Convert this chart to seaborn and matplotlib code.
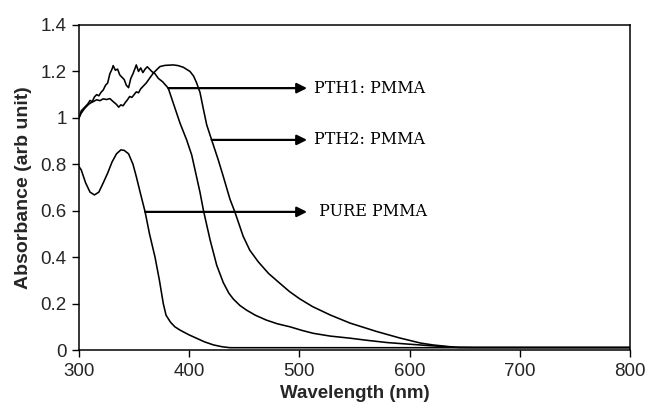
import matplotlib
matplotlib.use("Agg")
import matplotlib.pyplot as plt
import seaborn as sns
import pandas as pd

# Absorption spectra (wavelength in nm, absorbance in arb. units)
pth1_wl = [300, 302, 304, 306, 308, 310, 312, 314, 316, 318, 320, 322, 324, 326,
           328, 330, 331, 333, 335, 337, 339, 341, 343, 345, 347, 349, 351, 352,
           354, 356, 358, 360, 362, 364, 366, 369, 372, 376, 381, 385.6, 391.7,
           397.7, 402.3, 405.3, 409.8, 413, 419, 425, 431, 436, 440, 446, 452,
           460, 470, 480, 491.5, 502, 512.6, 528, 546, 561, 580, 600, 618, 640,
           660, 700, 750, 800]
pth1_abs = [1.00, 1.03, 1.04, 1.05, 1.06, 1.075, 1.07, 1.09, 1.10, 1.095, 1.11,
            1.12, 1.14, 1.15, 1.19, 1.21, 1.225, 1.205, 1.21, 1.185, 1.175, 1.165,
            1.14, 1.13, 1.17, 1.19, 1.215, 1.228, 1.20, 1.215, 1.195, 1.21, 1.22,
            1.21, 1.20, 1.19, 1.17, 1.155, 1.128, 1.063, 0.977, 0.905, 0.84,
            0.776, 0.68, 0.60, 0.474, 0.365, 0.29, 0.245, 0.22, 0.192, 0.172,
            0.15, 0.129, 0.113, 0.10, 0.085, 0.072, 0.06, 0.051, 0.042, 0.032,
            0.025, 0.019, 0.012, 0.011, 0.011, 0.011, 0.011]

pth2_wl = [300, 302, 305, 308, 310, 313, 316, 319, 322, 325, 328, 331, 334, 336,
           338, 340, 342, 344, 346, 348, 350, 352, 354, 356, 358, 361, 364, 367,
           370, 373.5, 378, 385.6, 390, 394.6, 400.7, 404, 406.8, 409.8, 412.8,
           415.9, 420.4, 426.4, 431, 437, 441.6, 449, 455, 462.7, 472, 482.4,
           491, 500.5, 512, 528, 546, 570, 591, 610, 621, 635, 645, 700, 750, 800]
pth2_abs = [1.00, 1.02, 1.04, 1.055, 1.063, 1.07, 1.078, 1.074, 1.082, 1.079,
            1.083, 1.07, 1.058, 1.046, 1.056, 1.052, 1.066, 1.078, 1.092, 1.088,
            1.10, 1.112, 1.108, 1.125, 1.135, 1.15, 1.17, 1.19, 1.205, 1.221,
            1.226, 1.228, 1.225, 1.218, 1.20, 1.18, 1.15, 1.11, 1.04, 0.97,
            0.905, 0.819, 0.747, 0.65, 0.593, 0.49, 0.43, 0.38, 0.33, 0.287,
            0.252, 0.22, 0.187, 0.151, 0.116, 0.08, 0.052, 0.03, 0.022, 0.015,
            0.011, 0.011, 0.011, 0.011]

pure_wl = [300, 302, 306, 310, 314, 318, 322, 326, 330, 334, 338, 341, 345, 349,
           352, 356, 360, 364, 369, 373, 376.5, 379, 383, 387, 392, 400, 407,
           414, 422, 430, 437, 500, 600, 700, 800]
pure_abs = [0.79, 0.776, 0.72, 0.68, 0.668, 0.68, 0.72, 0.762, 0.81, 0.845,
            0.862, 0.86, 0.845, 0.80, 0.747, 0.67, 0.595, 0.50, 0.40, 0.30, 0.20,
            0.15, 0.12, 0.10, 0.085, 0.065, 0.05, 0.035, 0.022, 0.014, 0.01,
            0.01, 0.01, 0.01, 0.01]

labels = ["PTH1: PMMA", "PTH2: PMMA", " PURE PMMA"]
# arrow origin on each curve (wavelength, absorbance)
arrow_start = [(381, 1.128), (420.4, 0.905), (360, 0.595)]

x_ticks = [300, 400, 500, 600, 700, 800]
y_ticks = [0, 0.2, 0.4, 0.6, 0.8, 1.0, 1.2, 1.4]
y_tick_labels = ["0", "0.2", "0.4", "0.6", "0.8", "1", "1.2", "1.4"]

sns.set_style("ticks")
plt.rcParams["font.family"] = ["Liberation Sans", "DejaVu Sans"]

fig = plt.figure(figsize=(6.46, 4.13), dpi=100)
ax = fig.add_axes([0.1223, 0.1525, 0.975 - 0.1223, 0.9395 - 0.1525])

for wl, ab in [(pth1_wl, pth1_abs), (pth2_wl, pth2_abs), (pure_wl, pure_abs)]:
    df = pd.DataFrame({"wavelength": wl, "absorbance": ab})
    sns.lineplot(data=df, x="wavelength", y="absorbance", ax=ax,
                 color="black", linewidth=1.15, estimator=None, sort=False)

ax.set_xlim(300, 800)
ax.set_ylim(0, 1.4)
ax.set_xticks(x_ticks)
ax.set_yticks(y_ticks)
ax.set_yticklabels(y_tick_labels)
ax.tick_params(axis="both", direction="out", length=5, width=1.0,
               color="black", labelsize=13.5, pad=4)

for spine in ax.spines.values():
    spine.set_visible(True)
    spine.set_color("black")
    spine.set_linewidth(1.1)

ax.set_xlabel("Wavelength (nm)", fontsize=13.5, fontweight="bold", labelpad=4)
ax.set_ylabel("Absorbance (arb unit)", fontsize=14, fontweight="bold", labelpad=6)

tip_x = 507
text_x = 513
for (sx, sy), lab in zip(arrow_start, labels):
    ax.annotate("", xy=(tip_x, sy), xytext=(sx, sy),
                arrowprops=dict(arrowstyle="-|>", color="black", lw=1.6,
                                mutation_scale=15, shrinkA=0, shrinkB=0))
    ax.text(text_x, sy, lab, ha="left", va="center", fontsize=11.5,
            family=["DejaVu Serif"], color="black")

fig.savefig("out.png", dpi=100)
